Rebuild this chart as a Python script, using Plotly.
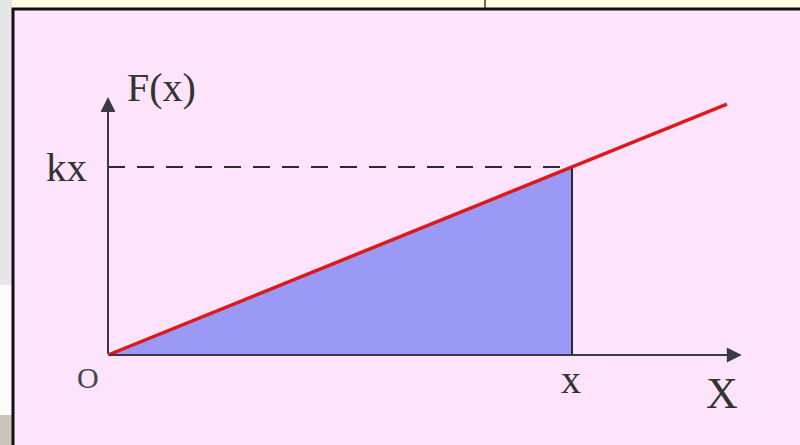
import plotly.graph_objects as go

# diagram values (data units: x position = 1, k = 1)
k = 1.0
x_pos = 1.0
x_line = [0.0, 1.0, 1.334]
F_line = [k * v for v in x_line]
x_axis_end = 1.366
y_axis_end = 1.372
tick_labels = {"origin": "O", "x": "x", "kx": "kx", "xaxis": "X", "yaxis": "F(x)"}

W, H = 800, 445

def px(x):
    return x / W

def py(y):
    return 1 - y / H

fig = go.Figure()

# area under the line, 0..x
fig.add_trace(go.Scatter(
    x=[0, x_pos, x_pos, 0], y=[0, k * x_pos, 0, 0],
    fill="toself", fillcolor="#9a9af6", mode="lines",
    line=dict(width=0), hoverinfo="skip"))

# vertical line at x and dashed line at kx
fig.add_trace(go.Scatter(x=[x_pos, x_pos], y=[0, k * x_pos], mode="lines",
                         line=dict(color="#2a2a3a", width=2)))
fig.add_trace(go.Scatter(x=[0, x_pos], y=[k * x_pos, k * x_pos], mode="lines",
                         line=dict(color="#2a2a2a", width=2, dash="17px,12px")))

# F(x) = kx
fig.add_trace(go.Scatter(x=x_line, y=F_line, mode="lines",
                         line=dict(color="#dd1a1a", width=3.5)))

shapes = [
    # top yellow strip and left grey strip
    dict(type="rect", xref="paper", yref="paper", x0=px(0), x1=px(W), y0=py(8), y1=py(0),
         fillcolor="#fffde2", line=dict(width=0), layer="below"),
    dict(type="rect", xref="paper", yref="paper", x0=px(0), x1=px(12), y0=py(285), y1=py(0),
         fillcolor="#e6e6e6", line=dict(width=0), layer="below"),
    dict(type="rect", xref="paper", yref="paper", x0=px(0), x1=px(12), y0=py(415), y1=py(285),
         fillcolor="#fbfbfb", line=dict(width=0), layer="below"),
    dict(type="rect", xref="paper", yref="paper", x0=px(0), x1=px(12), y0=py(445), y1=py(415),
         fillcolor="#c9c5b9", line=dict(width=0), layer="below"),
    dict(type="line", xref="paper", yref="paper", x0=px(485), x1=px(485), y0=py(8), y1=py(0),
         line=dict(color="#333", width=1.5)),
    # pink panel
    dict(type="rect", xref="paper", yref="paper", x0=px(13), x1=px(W + 5), y0=py(H + 5), y1=py(9),
         fillcolor="#fde4fc", line=dict(color="#111", width=3), layer="below"),
]

serif = "Liberation Serif, Times New Roman, serif"
annotations = [
    # axes as arrows
    dict(x=x_axis_end, y=0, ax=0, ay=0, xref="x", yref="y", axref="x", ayref="y",
         showarrow=True, arrowhead=2, arrowsize=1.5, arrowwidth=2, arrowcolor="#3a3a44", text=""),
    dict(x=0, y=y_axis_end, ax=0, ay=0, xref="x", yref="y", axref="x", ayref="y",
         showarrow=True, arrowhead=2, arrowsize=1.5, arrowwidth=2, arrowcolor="#3a3a44", text=""),
    dict(x=0, y=y_axis_end, xref="x", yref="y", text=tick_labels["yaxis"], showarrow=False,
         xanchor="left", yanchor="middle", xshift=17, yshift=10,
         font=dict(family=serif, size=40, color="#333")),
    dict(x=0, y=k * x_pos, xref="x", yref="y", text=tick_labels["kx"], showarrow=False,
         xanchor="right", yanchor="middle", xshift=-19,
         font=dict(family=serif, size=41, color="#333")),
    dict(x=0, y=0, xref="x", yref="y", text=tick_labels["origin"], showarrow=False,
         xanchor="center", yanchor="middle", xshift=-20, yshift=-22,
         font=dict(family=serif, size=30, color="#444")),
    dict(x=x_pos, y=0, xref="x", yref="y", text=tick_labels["x"], showarrow=False,
         xanchor="center", yanchor="middle", xshift=-1, yshift=-24,
         font=dict(family=serif, size=40, color="#333")),
    dict(x=x_axis_end, y=0, xref="x", yref="y", text=tick_labels["xaxis"], showarrow=False,
         xanchor="center", yanchor="middle", xshift=-20, yshift=-38,
         font=dict(family=serif, size=44, color="#333")),
]

fig.update_layout(
    width=W, height=H,
    margin=dict(l=0, r=0, t=0, b=0),
    paper_bgcolor="#fde4fc", plot_bgcolor="rgba(0,0,0,0)",
    showlegend=False,
    shapes=shapes, annotations=annotations,
    xaxis=dict(range=[-108 / 464, 692 / 464], visible=False, fixedrange=True),
    yaxis=dict(range=[-90 / 188, 355 / 188], visible=False, fixedrange=True),
)

fig.write_html("out.html", config={"displayModeBar": False},
               post_script="document.body.style.margin='0';")
